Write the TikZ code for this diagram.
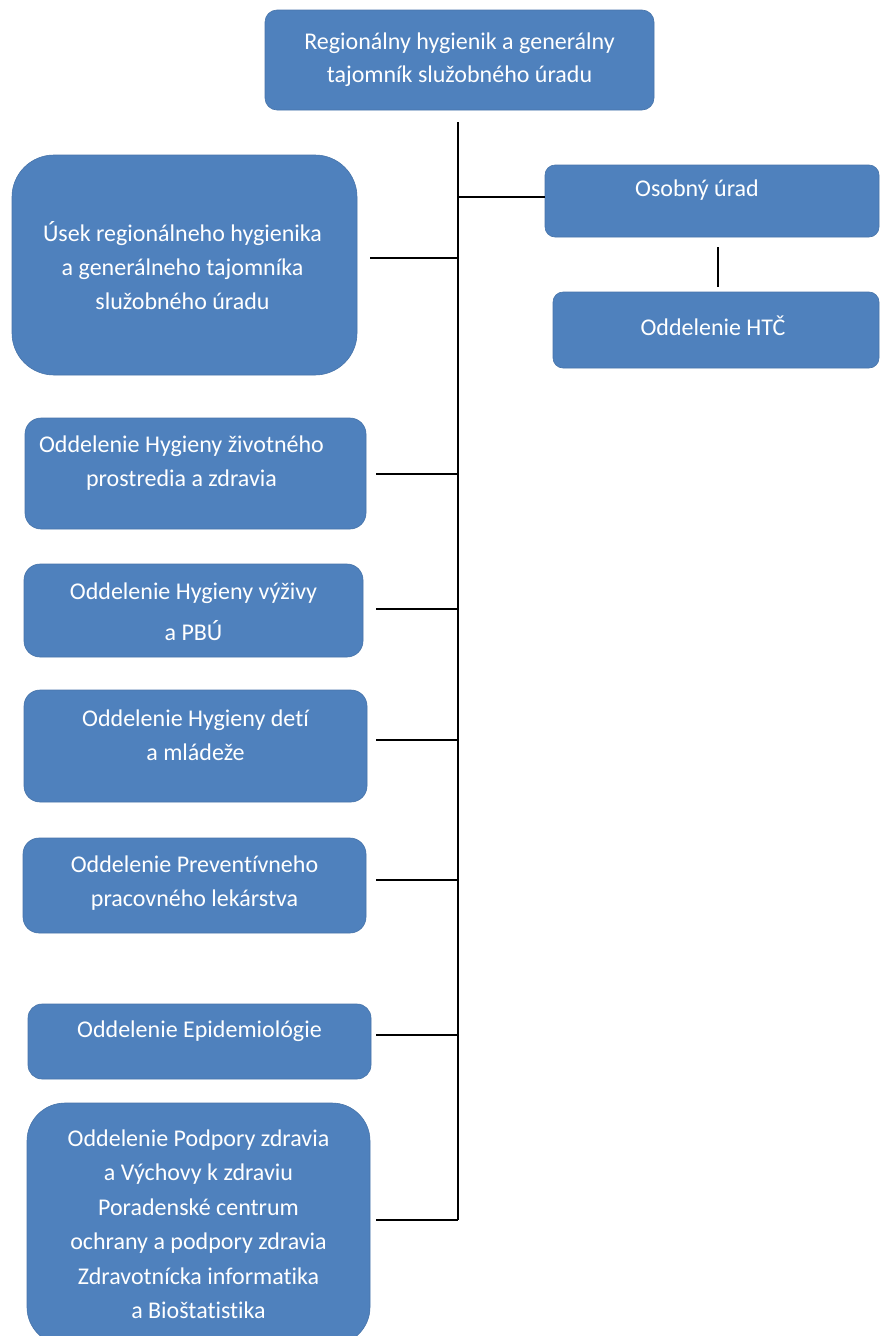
\documentclass[tikz,border=0pt]{standalone}
\usepackage{fontspec}
\setmainfont{Carlito}[Ligatures=NoCommon]
\usetikzlibrary{calc}
\definecolor{boxblue}{HTML}{4F81BD}
\begin{document}
\begin{tikzpicture}[x=1pt,y=-1pt,
  box/.style={fill=boxblue, draw=boxblue!90!black, line width=0.6pt, inner sep=0pt},
  lbl/.style={text=white, font=\fontsize{24}{34}\selectfont, align=center, inner sep=0pt},
  con/.style={draw=black, line width=2pt}]
\fill[white] (0,0) rectangle (881,1336);
\useasboundingbox (0,0) rectangle (881,1336);
\coordinate (T) at (458,0);

% boxes
\node[box, rounded corners=12pt, minimum width=389pt, minimum height=100pt] (top) at (459.5,60) {};
\node[box, rounded corners=42pt, minimum width=345pt, minimum height=220pt] (usek) at (184.5,265) {};
\node[box, rounded corners=10pt, minimum width=334pt, minimum height=72pt] (osob) at (712,201) {};
\node[box, rounded corners=10pt, minimum width=326pt, minimum height=76pt] (htc) at (716,330) {};
\node[box, rounded corners=16pt, minimum width=341pt, minimum height=111pt] (ziv) at (195.5,473.5) {};
\node[box, rounded corners=16pt, minimum width=339pt, minimum height=93pt] (vyz) at (193.5,610.5) {};
\node[box, rounded corners=16pt, minimum width=343pt, minimum height=112pt] (det) at (195.5,746) {};
\node[box, rounded corners=16pt, minimum width=343pt, minimum height=95pt] (prev) at (194.5,885.5) {};
\node[box, rounded corners=14pt, minimum width=343pt, minimum height=75pt] (epi) at (199.5,1041.5) {};
\node[box, rounded corners=38pt, minimum width=343pt, minimum height=242pt] (pod) at (198.5,1224) {};

% texts
\node[lbl, font=\fontsize{24}{33}\selectfont] (top-t) at ($(top)+(0,0)$) {Regionálny hygienik a generálny\\tajomník služobného úradu};
\node[lbl] (usek-t) at ($(usek)+(-2,1)$) {Úsek regionálneho hygienika\\a generálneho tajomníka\\služobného úradu};
\node[lbl] (osob-t) at ($(osob)+(-15,-11)$) {Osobný úrad};
\node[lbl] (htc-t) at ($(htc)+(-3,-4)$) {Oddelenie HTČ};
\node[lbl] (ziv-t) at ($(ziv)+(-14,-10)$) {Oddelenie Hygieny životného\\prostredia a zdravia};
\node[lbl, font=\fontsize{24}{41}\selectfont] (vyz-t) at ($(vyz)+(0,1)$) {Oddelenie Hygieny výživy\\a PBÚ};
\node[lbl] (det-t) at ($(det)+(0,-11)$) {Oddelenie Hygieny detí\\a mládeže};
\node[lbl] (prev-t) at ($(prev)+(0,-2)$) {Oddelenie Preventívneho\\pracovného lekárstva};
\node[lbl] (epi-t) at ($(epi)+(0,-10)$) {Oddelenie Epidemiológie};
\node[lbl, font=\fontsize{24}{34.5}\selectfont] (pod-t) at ($(pod)+(0,0)$) {Oddelenie Podpory zdravia\\a Výchovy k zdraviu\\Poradenské centrum\\ochrany a podpory zdravia\\Zdravotnícka informatika\\a Bioštatistika};

% connectors
\coordinate (t0) at ([yshift=-12pt]top.south);
\coordinate (h1) at ([shift={(13pt,7pt)}]usek.east);
\coordinate (h2) at ([shift={(10pt,0pt)}]ziv.east);
\coordinate (h3) at ([shift={(13pt,1.5pt)}]vyz.east);
\coordinate (h4) at ([shift={(9pt,6pt)}]det.east);
\coordinate (h5) at ([shift={(10pt,5.5pt)}]prev.east);
\coordinate (h6) at ([shift={(5pt,6.5pt)}]epi.east);
\coordinate (h7) at ([shift={(6pt,4pt)}]pod.east);
\coordinate (o1) at ([yshift=4pt]osob.west);
\coordinate (o2) at ([shift={(6pt,-10pt)}]osob.south);
\coordinate (o3) at ([shift={(2pt,5pt)}]htc.north);

\draw[con] (t0 -| T) -- (h7 -| T);
\draw[con] (h1) -- (h1 -| T);
\draw[con] (h2) -- (h2 -| T);
\draw[con] (h3) -- (h3 -| T);
\draw[con] (h4) -- (h4 -| T);
\draw[con] (h5) -- (h5 -| T);
\draw[con] (h6) -- (h6 -| T);
\draw[con] (h7) -- (h7 -| T);
\draw[con] (o1 -| T) -- (o1);
\draw[con] (o2) -- (o2 -| o3) -- (o3);
\end{tikzpicture}
\end{document}
